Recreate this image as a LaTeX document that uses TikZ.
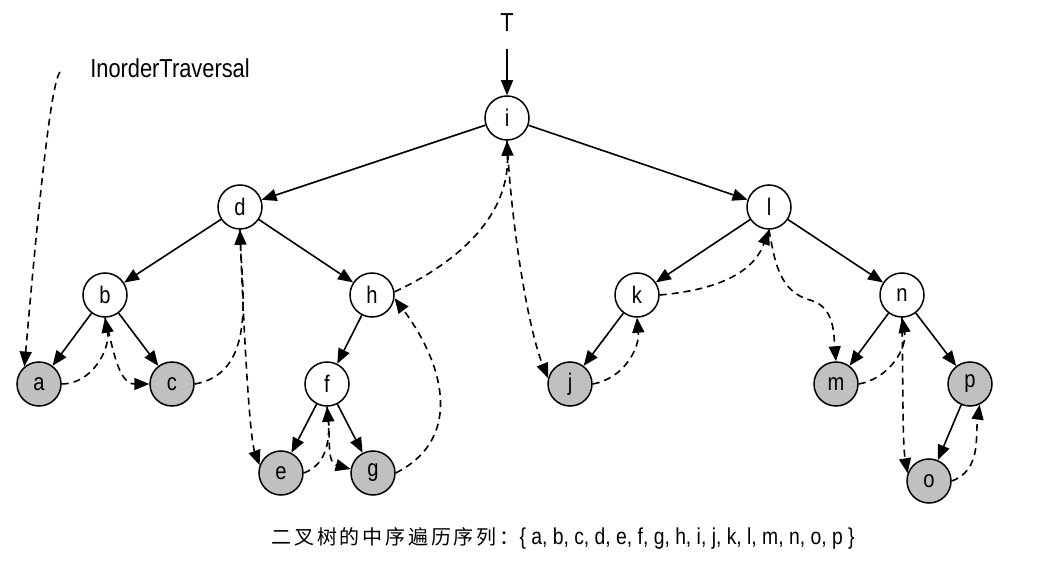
\documentclass[tikz,border=0pt]{standalone}
\usepackage{fontspec}
\usepackage{xcolor}
\usepackage{tikz}
\usetikzlibrary{arrows.meta}
\setmainfont{Liberation Sans}[FakeStretch=0.84]
\newfontfamily\cjkfont{Noto Sans CJK SC}[LetterSpace=14]
\definecolor{leafgray}{HTML}{C0C0C0}
\tikzset{
  vertex/.style={circle, draw=black, fill=white, line width=1.5pt, minimum size=44pt, inner sep=0pt, font=\fontsize{24}{26}\selectfont},
  leaf/.style={vertex, fill=leafgray},
  tree/.style={draw=black, line width=1.6pt, -{Triangle[length=15pt,width=12pt]}},
  walk/.style={draw=black, line width=1.6pt, dash pattern=on 7pt off 5pt, -{Triangle[length=15pt,width=12pt]}},
  lab/.style={font=\fontsize{26}{30}\selectfont},
}

\begin{document}
\begin{tikzpicture}[x=1pt,y=1pt]
  \useasboundingbox (0,0) rectangle (1058,587);

  % nodes of the tree
  \node[lab] (T) at (507,564) {T};
  \node[vertex] (i) at (507,469) {i};
  \node[vertex] (d) at (240,380) {d};
  \node[vertex] (l) at (769,380) {l};
  \node[vertex] (b) at (105,292) {b};
  \node[vertex] (h) at (372,292) {h};
  \node[vertex] (k) at (637,292) {k};
  \node[vertex] (n) at (902,292) {n};
  \node[leaf] (a) at (39,203) {a};
  \node[leaf] (c) at (172,203) {c};
  \node[vertex] (f) at (327,203) {f};
  \node[leaf] (j) at (570,203) {j};
  \node[leaf] (m) at (836,203) {m};
  \node[leaf] (p) at (970,203) {p};
  \node[leaf] (e) at (281,114) {e};
  \node[leaf] (g) at (373,114) {g};
  \node[leaf] (o) at (929,106) {o};

  \node[lab] (walklab) at (170,519) {InorderTraversal};
  \coordinate (start) at (60,515);
  \coordinate (lm) at (810,287);

  % tree edges
  \draw[tree, shorten <=14pt] (T) -- (i);
  \draw[tree] (i) -- (d);
  \draw[tree] (i) -- (l);
  \draw[tree] (d) -- (b);
  \draw[tree] (d) -- (h);
  \draw[tree] (l) -- (k);
  \draw[tree] (l) -- (n);
  \draw[tree] (b) -- (a);
  \draw[tree] (b) -- (c);
  \draw[tree] (h) -- (f);
  \draw[tree] (k) -- (j);
  \draw[tree] (n) -- (m);
  \draw[tree] (n) -- (p);
  \draw[tree] (f) -- (e);
  \draw[tree] (f) -- (g);
  \draw[tree] (p) -- (o);

  % inorder walk
  \draw[walk] (start) to[out=230,in=85,out distance=15,in distance=150] (a.130);
  \draw[walk] (a.east) to[out=0,in=-80] (b.south);
  \draw[walk] (b.south) to[out=-75,in=180] (c.west);
  \draw[walk] (c.east) to[out=10,in=-88] (d.south);
  \draw[walk] (d.south) to[out=-88,in=110,in distance=30] (e.160);
  \draw[walk] (e.east) to[out=20,in=-85] (f.south);
  \draw[walk] (f.south) to[out=-80,in=165] (g.170);
  \draw[walk] (g.east) to[out=27,in=-53,looseness=1.15] (h.-8);
  \draw[walk] (h.8) to[out=25,in=-88] (i.south);
  \draw[walk] (i.south) to[out=-87,in=112,in distance=50] (j.165);
  \draw[walk] (j.east) to[out=10,in=-85] (k.south);
  \draw[walk] (k.east) to[out=5,in=-110] (l.south);
  \draw[walk] (l.south) to[out=-80,in=165] (lm) to[out=-15,in=95] (m.north);
  \draw[walk] (m.east) to[out=10,in=-80] (n.south);
  \draw[walk] (n.south) to[out=-89,in=100,in distance=30] (o.160);
  \draw[walk] (o.east) to[out=20,in=-98] (p.-65);

  \node[anchor=west, font=\fontsize{23}{26}\selectfont] (seq) at (268,49)
    {{\cjkfont\fontsize{20}{24}\selectfont 二叉树的中序遍历序列：}\{ a, b, c, d, e, f, g, h, i, j, k, l, m, n, o, p \}};
\end{tikzpicture}
\end{document}
